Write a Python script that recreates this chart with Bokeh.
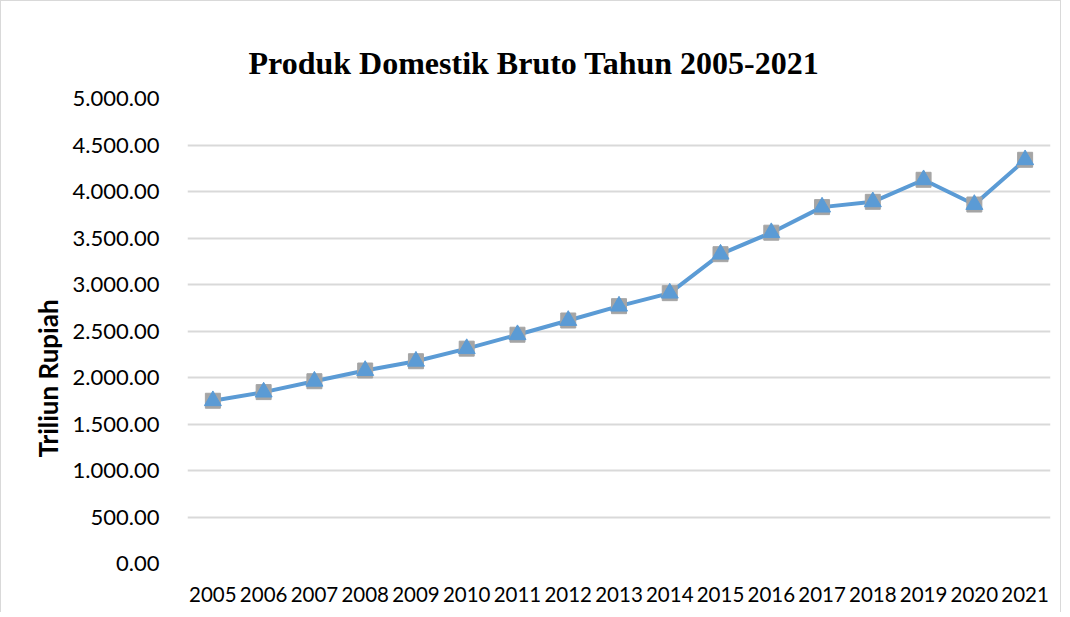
from bokeh.plotting import figure
from bokeh.models import ColumnDataSource, FixedTicker, Title
from bokeh.embed import file_html
from bokeh.resources import INLINE

years = ["2005", "2006", "2007", "2008", "2009", "2010", "2011", "2012", "2013",
         "2014", "2015", "2016", "2017", "2018", "2019", "2020", "2021"]
pdb = [1750, 1843, 1960, 2075, 2175, 2310, 2460, 2613, 2767,
       2907, 3326, 3557, 3832, 3889, 4126, 3860, 4341]
y_ticks = [0, 500, 1000, 1500, 2000, 2500, 3000, 3500, 4000, 4500, 5000]
y_tick_labels = ["0.00", "500.00", "1.000.00", "1.500.00", "2.000.00", "2.500.00",
                 "3.000.00", "3.500.00", "4.000.00", "4.500.00", "5.000.00"]
title_text = "Produk Domestik Bruto Tahun 2005-2021"
y_label_text = "Triliun Rupiah"

source = ColumnDataSource(data=dict(year=years, pdb=pdb))

p = figure(x_range=years, y_range=(0, 5000), width=1061, height=612,
           output_backend="svg", toolbar_location=None,
           min_border_left=186, min_border_right=12,
           min_border_top=97, min_border_bottom=50)
p.styles = {"border-top": "1px solid #d9d9d9", "border-left": "1px solid #d9d9d9",
            "border-right": "1px solid #d9d9d9"}
p.outline_line_color = None
p.background_fill_color = "white"
p.border_fill_color = "white"

t = Title(text=title_text, align="left", offset=61, standoff=35,
          text_font="Liberation Serif", text_font_size="32px",
          text_font_style="bold", text_color="black")
p.add_layout(t, "above")

p.xgrid.grid_line_color = None
p.ygrid.grid_line_color = "#d9d9d9"
p.ygrid.grid_line_width = 2

p.yaxis.ticker = FixedTicker(ticks=y_ticks)
p.yaxis.major_label_overrides = {v: s for v, s in zip(y_ticks, y_tick_labels)}
for ax in (p.xaxis, p.yaxis):
    ax.axis_line_color = None
    ax.major_tick_line_color = None
    ax.minor_tick_line_color = None
    ax.major_label_text_font = "Lato"
    ax.major_label_text_color = "black"
p.yaxis.major_label_text_font_size = "22px"
p.xaxis.major_label_text_font_size = "20.5px"
p.yaxis.major_label_standoff = 22
p.xaxis.major_label_standoff = 17

p.line("year", "pdb", source=source, line_color="#5b9bd5", line_width=4)
p.scatter("year", "pdb", source=source, marker="square", size=15,
          fill_color="#a5a5a5", line_color="#a5a5a5")
p.scatter("year", "pdb", source=source, marker="triangle", size=17,
          fill_color="#5b9bd5", line_color="#5b9bd5")

yt = Title(text=y_label_text, align="left", offset=106, standoff=12,
           text_font="Lato", text_font_size="26px", text_font_style="bold",
           text_color="black")
p.add_layout(yt, "left")

open("out.html", "w").write(file_html(p, INLINE))
